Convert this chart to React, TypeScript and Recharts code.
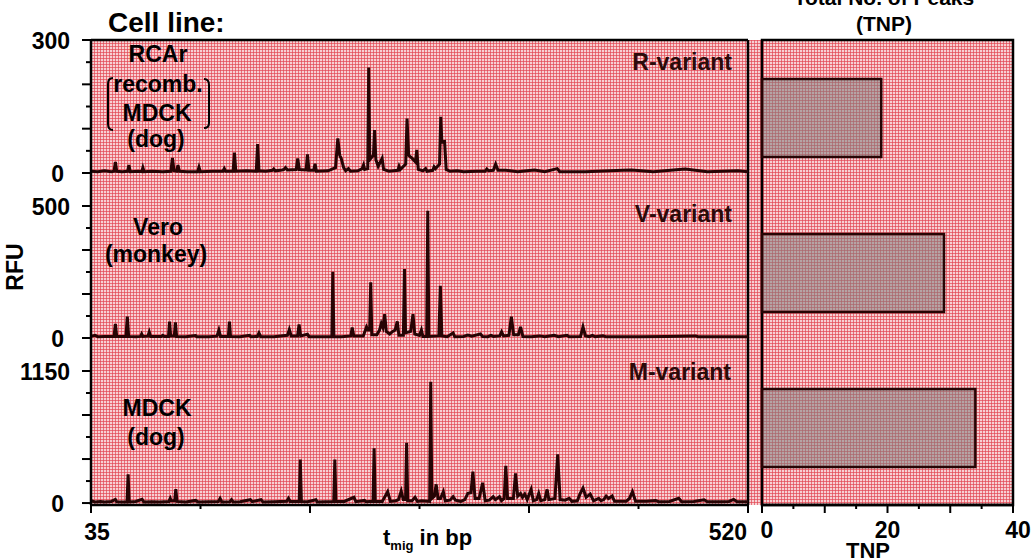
import React from "react";
import {
  LineChart,
  Line,
  XAxis,
  YAxis,
  ReferenceLine,
  ReferenceArea,
  BarChart,
  Bar,
} from "recharts";

// ---------- data ----------
const bpTicks = [35, 115.83, 196.67, 277.5, 358.33, 439.17, 520];
const rTicks = [0, 50, 100, 150, 200, 250, 300];
const vTicks = [0, 83.33, 166.67, 250, 333.33, 416.67, 500];
const mTicks = [0, 191.67, 383.33, 575, 766.67, 958.33, 1150];
const tnpTicks = [0, 5, 10, 15, 20, 25, 30, 35, 40];

const variantNames = ["R-variant", "V-variant", "M-variant"];
const tnpValues = [19, 29, 34];

// R-variant (RCAr recomb. MDCK), [bp, RFU]
const rTrace: [number, number][] = [
  [35, 4], [40, 3], [45, 5], [50, 3], [52, 4], [53, 25], [54, 4], [58, 3], [62, 4], [63, 18], [64, 3],
  [70, 4], [72.5, 3], [73.3, 12], [74.2, 3], [80, 4], [88, 3], [94, 4], [95.1, 34], [96.3, 5], [98.2, 4],
  [99.2, 18], [100.3, 4], [106, 3], [113.7, 3], [114.7, 13], [115.7, 3], [125, 4], [132.4, 4], [133.4, 10],
  [134.4, 4], [139.9, 4], [140.9, 46], [141.9, 4], [150, 5], [157, 4], [158, 65], [159, 5], [164, 4],
  [169, 6], [169.9, 9], [171, 5], [176, 7], [177.5, 8], [178.6, 12], [180, 7], [186.5, 8], [187.6, 33],
  [188.8, 8], [193.8, 7], [194.8, 42], [195.9, 6], [199.4, 6], [200.4, 21], [201.4, 4], [210, 5],
  [215.5, 12], [217.2, 78], [218.6, 40], [219.7, 33], [221.5, 12], [223, 5], [225, 10], [226.5, 4],
  [232, 5], [235.2, 10], [236.2, 18], [237, 8], [239.3, 10], [240, 238], [240.8, 30], [243.5, 40],
  [244.3, 97], [245.3, 30], [247, 15], [249.9, 33], [251, 8], [255, 4], [261.5, 6], [262.4, 15],
  [263.3, 8], [267.3, 20], [268.3, 123], [269.5, 40], [272.1, 33], [274.5, 25], [275.5, 52], [276.6, 8],
  [280, 5], [282, 10], [283, 4], [287.3, 6], [288.3, 14], [289.3, 10], [292.3, 20], [293.2, 127],
  [294, 70], [296, 71], [297.2, 8], [300, 4], [305.4, 5], [310, 3], [320, 4], [326, 4], [327.2, 9],
  [328.5, 5], [332, 6], [333.7, 20], [335.5, 6], [341.2, 6], [350, 3], [362.4, 7], [370, 3], [379.2, 10],
  [381, 3], [400, 3], [427.8, 6], [434, 7], [450, 3], [473.6, 9], [490, 3], [512.5, 5], [520, 3],
];

// V-variant (Vero monkey)
const vTrace: [number, number][] = [
  [35, 6], [38, 10], [40, 5], [45, 6], [52, 6], [53, 53], [54, 6], [60.8, 6], [61.8, 81], [62.8, 6],
  [68, 5], [71.6, 6], [72.4, 15], [73.3, 6], [77, 7], [78, 23], [79, 6], [87, 6], [88, 10], [89, 6],
  [92.2, 6], [93, 62], [93.8, 8], [96.5, 8], [97.3, 59], [98.2, 6], [105, 5], [112.2, 9], [113, 5],
  [122, 5], [128, 7], [129.4, 30], [130.6, 6], [136.4, 6], [137.2, 62], [138, 6], [145, 5], [152.1, 10],
  [153, 5], [157.8, 6], [159, 19], [160.3, 5], [170, 5], [180, 10], [181.4, 32], [182.8, 8], [187.5, 8],
  [188.6, 51], [189.8, 8], [194.8, 14], [196, 5], [205, 5], [212.8, 5], [213.5, 251], [214.3, 5],
  [220, 5], [226.8, 8], [227.8, 40], [229, 8], [236, 8], [238.4, 42], [239.5, 30], [240.7, 30],
  [241.5, 211], [242.3, 12], [246, 12], [248, 30], [249.3, 55], [250.5, 40], [251.8, 90], [253, 25],
  [255.5, 15], [257.7, 25], [259.5, 30], [261.1, 63], [262.3, 10], [265.6, 10], [266.4, 261],
  [267.2, 20], [271, 25], [272.7, 90], [274, 15], [277.5, 10], [278.9, 30], [280, 6], [282.8, 6],
  [283.6, 482], [284.4, 6], [291.8, 8], [292.9, 198], [294, 8], [298, 5], [302.3, 19], [303.5, 5],
  [310, 6], [313.2, 11], [316, 7], [322.5, 15], [324, 6], [328, 5], [330.3, 10], [332, 6], [336.8, 8],
  [338.1, 23], [339.5, 8], [343.5, 10], [345.3, 81], [347, 12], [350.5, 12], [352.1, 42], [353.8, 6],
  [360, 5], [366.1, 8], [370, 5], [377, 10], [380, 5], [386.4, 10], [388, 5], [396.4, 6], [398.2, 42],
  [400, 8], [403, 5], [405.1, 10], [407, 5], [412.9, 8], [415, 5], [440, 5], [460, 6], [481.4, 8],
  [483, 5], [500, 5], [520, 5],
];

// M-variant (MDCK dog)
const mTrace: [number, number][] = [
  [35, 20], [38, 10], [42, 14], [45, 10], [50, 14], [53, 32], [54, 12], [58, 10], [61.6, 10],
  [62.4, 250], [63.2, 10], [68, 14], [72.7, 32], [74, 10], [80, 12], [86, 10], [92.5, 14], [93.5, 41],
  [94.2, 20], [96.8, 20], [97.6, 122], [98.5, 14], [105, 10], [112.2, 23], [114, 10], [122, 12],
  [129, 14], [130.3, 41], [131.6, 10], [137.5, 12], [138.7, 29], [140, 10], [145, 12], [152.7, 29],
  [154, 12], [160.5, 29], [162, 10], [170, 12], [179.5, 15], [180.8, 41], [182, 14], [188.7, 14],
  [189.5, 380], [190.3, 14], [195, 12], [201, 29], [202, 10], [208, 12], [214.2, 14], [215, 380],
  [215.8, 14], [222, 14], [229.1, 50], [230.5, 12], [236.9, 23], [238, 12], [243.2, 15], [244, 476],
  [244.8, 15], [250, 14], [254, 99], [256, 14], [260, 20], [262, 30], [264, 104], [265.5, 30],
  [267.2, 30], [268, 525], [268.8, 20], [272, 20], [274.2, 50], [276, 14], [279, 20], [285, 15],
  [285.8, 1057], [286.6, 40], [288.5, 60], [289.8, 163], [291.2, 40], [293, 40], [295.1, 99],
  [296.5, 20], [300, 25], [302.3, 55], [304, 25], [308, 15], [311, 30], [313.2, 84], [315.5, 90],
  [316.9, 273], [318.5, 40], [321.5, 40], [324.1, 177], [326, 20], [329, 25], [331.9, 55], [333.5, 30],
  [336.5, 55], [338, 20], [340, 40], [341.2, 325], [342.5, 40], [346.8, 40], [348.4, 259], [350, 60],
  [352.1, 84], [353.5, 50], [355.2, 78], [357, 30], [359.9, 119], [361.5, 20], [364, 30], [365.5, 84],
  [367, 20], [370, 30], [371.7, 119], [373, 30], [377.5, 40], [379.5, 424], [381.3, 30], [385, 25],
  [388, 41], [390, 15], [394, 20], [396, 80], [398.2, 131], [400.5, 50], [403.5, 78], [406, 20],
  [409.8, 41], [411.5, 20], [413.5, 30], [415.3, 61], [417, 40], [419.7, 61], [421.5, 15], [430, 15],
  [432.5, 40], [434.7, 99], [437, 15], [445, 15], [451.8, 23], [454, 12], [462, 14], [468.9, 41],
  [471, 12], [480, 14], [487.6, 29], [490, 12], [500, 12], [506, 14], [509.4, 32], [512, 12], [520, 12],
];

// ---------- styling ----------
const FONT = "'Liberation Sans', Arial, Helvetica, sans-serif";
const TRACE = "#260404";
const AXIS = { stroke: "#000", strokeWidth: 2.5 };

const toRows = (t: [number, number][]) => t.map(([bp, rfu]) => ({ bp, rfu }));

const makeYTick = (max: number) => (props: any) => {
  const { x, y, payload, index } = props;
  const major = index % 2 === 0;
  const v = payload.value;
  const label = v === 0 ? "0" : v === max ? String(max) : null;
  return (
    <g>
      <line x1={x} y1={y} x2={x - (major ? 9 : 5)} y2={y} stroke="#000" strokeWidth={2} />
      {label && (
        <text
          x={v === 0 ? x - 27 : x - 21}
          y={y + 9}
          textAnchor="end"
          fontFamily={FONT}
          fontWeight="bold"
          fontSize={23}
          fill="#000"
        >
          {label}
        </text>
      )}
    </g>
  );
};

const BpTick = (props: any) => {
  const { x, y, index } = props;
  const major = index % 2 === 0;
  const last = index === bpTicks.length - 1;
  return (
    <g>
      <line x1={x} y1={y} x2={x} y2={y + (major ? 8 : 4)} stroke="#000" strokeWidth={2} />
      {index === 0 && (
        <text x={x + 6} y={y + 35} textAnchor="middle" fontFamily={FONT} fontWeight="bold" fontSize={23}>
          {String(bpTicks[0])}
        </text>
      )}
      {last && (
        <text x={x - 1} y={y + 35} textAnchor="end" fontFamily={FONT} fontWeight="bold" fontSize={23}>
          {String(bpTicks[bpTicks.length - 1])}
        </text>
      )}
    </g>
  );
};

const TnpTick = (props: any) => {
  const { x, y, payload } = props;
  const v = payload.value;
  const major = v % 10 === 0;
  const label = v % 20 === 0;
  return (
    <g>
      <line x1={x} y1={y} x2={x} y2={y + (major ? 8 : 4)} stroke="#000" strokeWidth={2} />
      {label && (
        <text
          x={v === 20 ? x : x + 5}
          y={y + 33}
          textAnchor="middle"
          fontFamily={FONT}
          fontWeight="bold"
          fontSize={23}
        >
          {String(v)}
        </text>
      )}
    </g>
  );
};

const T = (p: any) => (
  <text fontFamily={FONT} fontWeight="bold" fontSize={23} fill="#000" {...p} />
);

export default function App() {
  const panelProps = {
    width: 760,
    margin: { top: 0, right: 12, bottom: 0, left: 0 },
  };
  return (
    <div style={{ position: "absolute", left: 0, top: 0, width: 1032, height: 558, background: "#fff", overflow: "hidden" }}>
      <style>{".recharts-surface{overflow:visible}"}</style>
      {/* graph-paper background */}
      <div
        style={{
          position: "absolute",
          left: 91,
          top: 40,
          width: 922,
          height: 465,
          backgroundColor: "#f7d0d3",
          backgroundImage:
            "linear-gradient(rgba(226,72,84,0.7) 1px, transparent 1px), linear-gradient(90deg, rgba(226,72,84,0.7) 1px, transparent 1px)",
          backgroundSize: "3px 3px",
        }}
      />

      {/* R-variant panel */}
      <div style={{ position: "absolute", left: 0, top: 0 }}>
        <LineChart {...panelProps} height={206} margin={{ top: 40, right: 12, bottom: 0, left: 0 }} data={toRows(rTrace)}>
          <XAxis type="number" dataKey="bp" domain={[35, 520]} hide height={0} />
          <YAxis
            type="number"
            domain={[-74.4, 300]}
            ticks={rTicks}
            interval={0}
            width={91}
            tickSize={0}
            tickMargin={0}
            tickLine={false}
            axisLine={AXIS}
            tick={makeYTick(300)}
          />
          <ReferenceLine y={300} stroke="#000" strokeWidth={2.5} />
          <ReferenceLine x={520} stroke="#000" strokeWidth={2.5} />
          <Line type="linear" dataKey="rfu" stroke={TRACE} strokeWidth={3} dot={false} isAnimationActive={false} />
        </LineChart>
      </div>

      {/* V-variant panel */}
      <div style={{ position: "absolute", left: 0, top: 206 }}>
        <LineChart {...panelProps} height={165} data={toRows(vTrace)}>
          <XAxis type="number" dataKey="bp" domain={[35, 520]} hide height={0} />
          <YAxis
            type="number"
            domain={[-125, 500]}
            ticks={vTicks}
            interval={0}
            width={91}
            tickSize={0}
            tickMargin={0}
            tickLine={false}
            axisLine={AXIS}
            tick={makeYTick(500)}
          />
          <ReferenceLine x={520} stroke="#000" strokeWidth={2.5} />
          <Line type="linear" dataKey="rfu" stroke={TRACE} strokeWidth={3} dot={false} isAnimationActive={false} />
        </LineChart>
      </div>

      {/* M-variant panel */}
      <div style={{ position: "absolute", left: 0, top: 371 }}>
        <LineChart {...panelProps} height={187} data={toRows(mTrace)}>
          <XAxis
            type="number"
            dataKey="bp"
            domain={[35, 520]}
            ticks={bpTicks}
            interval={0}
            height={53}
            tickSize={0}
            tickMargin={0}
            tickLine={false}
            axisLine={AXIS}
            tick={<BpTick />}
          />
          <YAxis
            type="number"
            domain={[-17, 1150]}
            ticks={mTicks}
            interval={0}
            width={91}
            tickSize={0}
            tickMargin={0}
            tickLine={false}
            axisLine={AXIS}
            tick={makeYTick(1150)}
          />
          <ReferenceLine x={520} stroke="#000" strokeWidth={2.5} />
          <Line type="linear" dataKey="rfu" stroke={TRACE} strokeWidth={3} dot={false} isAnimationActive={false} />
        </LineChart>
      </div>

      {/* TNP bar panel */}
      <div style={{ position: "absolute", left: 748, top: 0 }}>
        <BarChart
          width={284}
          height={558}
          layout="vertical"
          margin={{ top: 40, right: 19, bottom: 0, left: 14 }}
          data={variantNames.map((name, i) => ({ name, tnp: tnpValues[i] }))}
        >
          <XAxis
            type="number"
            domain={[0, 40]}
            ticks={tnpTicks}
            interval={0}
            height={53}
            tickSize={0}
            tickMargin={0}
            tickLine={false}
            axisLine={AXIS}
            tick={<TnpTick />}
          />
          <YAxis type="category" dataKey="name" hide />
          <ReferenceArea x1={0} x2={40} fill="none" fillOpacity={0} stroke="#000" strokeWidth={2.5} />
          <Bar
            dataKey="tnp"
            barSize={78}
            fill="#808080"
            fillOpacity={0.55}
            stroke={TRACE}
            strokeWidth={2.5}
            isAnimationActive={false}
          />
        </BarChart>
      </div>

      {/* text overlay */}
      <svg width={1032} height={558} style={{ position: "absolute", left: 0, top: 0, pointerEvents: "none" }}>
        <T x={108} y={32} fontSize={28}>Cell line:</T>
        <T x={884} y={5} fontSize={21} textAnchor="middle">Total No. of Peaks</T>
        <T x={884} y={31} fontSize={21} textAnchor="middle">(TNP)</T>

        <T x={158} y={62} textAnchor="middle">RCAr</T>
        <T x={158} y={92} textAnchor="middle">recomb.</T>
        <T x={157} y={121} textAnchor="middle">MDCK</T>
        <T x={156} y={147} textAnchor="middle">(dog)</T>
        <path d="M 113 78 Q 108 78 108 84 L 108 124 Q 108 130 113 130" stroke="#000" strokeWidth={2} fill="none" />
        <path d="M 204 79 Q 209 79 209 85 L 209 123 Q 209 128 204 128" stroke="#000" strokeWidth={2} fill="none" />

        <T x={158} y={235} textAnchor="middle">Vero</T>
        <T x={156} y={262} textAnchor="middle">(monkey)</T>

        <T x={157} y={416} textAnchor="middle">MDCK</T>
        <T x={156} y={445} textAnchor="middle">(dog)</T>

        <T x={732} y={70} textAnchor="end" fill="#2b0a0a">R-variant</T>
        <T x={732} y={222} textAnchor="end" fill="#2b0a0a">V-variant</T>
        <T x={731} y={380} textAnchor="end" fill="#2b0a0a">M-variant</T>

        <T x={23} y={267} textAnchor="middle" transform="rotate(-90 23 267)">RFU</T>

        <T x={383} y={545} fontSize={22}>
          <tspan>t</tspan>
          <tspan fontSize={13} dy={5}>mig</tspan>
          <tspan dy={-5}> in bp</tspan>
        </T>
        <T x={868} y={558} fontSize={22} textAnchor="middle">TNP</T>
      </svg>
    </div>
  );
}
